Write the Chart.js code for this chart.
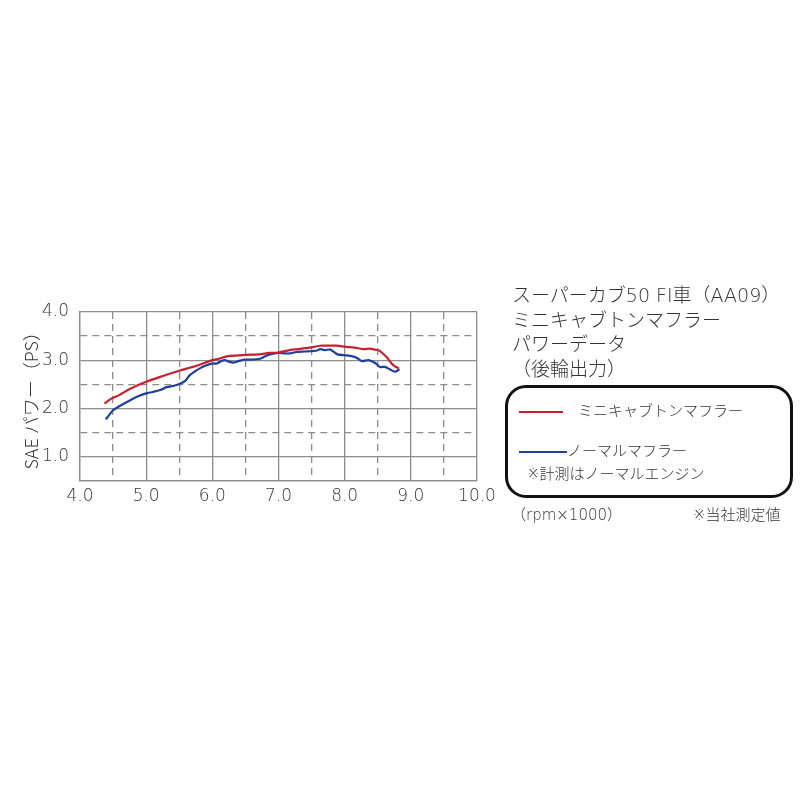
<!DOCTYPE html>
<html lang="ja">
<head>
<meta charset="utf-8">
<script src="https://cdn.jsdelivr.net/npm/chart.js@4/dist/chart.umd.min.js"></script>
<style>
  html, body { margin: 0; padding: 0; background: #fff; }
  body { width: 800px; height: 800px; position: relative; overflow: hidden;
         font-family: "DejaVu Sans", "Noto Sans CJK JP", sans-serif; color: #333; font-weight: 300; }
  #wrap { position: absolute; left: 0; top: 0; width: 800px; height: 800px; }
  .t { position: absolute; white-space: nowrap; line-height: 1; }
  #title { left: 512px; top: 283px; font-size: 19px; line-height: 24.5px; }
  #box { position: absolute; left: 505px; top: 385px; width: 282px; height: 107px;
         border: 3px solid #111; border-radius: 21px; }
  .sw { position: absolute; height: 2px; }
  .lg { font-size: 15px; }
</style>
</head>
<body>
<div id="wrap"><canvas id="powerChart" width="800" height="800"></canvas></div>

<div class="t" id="title">スーパーカブ50 FI車（AA09）<br>ミニキャブトンマフラー<br>パワーデータ<br>（後輪出力）</div>
<div id="box"></div>
<div class="sw" style="left:519px; top:411px; width:44px; background:#c8202f;"></div>
<div class="t lg" style="left:578px; top:404px;">ミニキャブトンマフラー</div>
<div class="sw" style="left:519px; top:451px; width:48px; background:#1f3f9a;"></div>
<div class="t lg" style="left:567px; top:444px;">ノーマルマフラー</div>
<div class="t lg" style="left:527px; top:467px;">※計測はノーマルエンジン</div>
<div class="t lg" style="left:511px; top:508px;">（rpm×1000）</div>
<div class="t lg" style="left:693px; top:508px;">※当社測定値</div>

<script>
// ---- データ (rpm×1000 / PS) ----
const miniRpm = [4.37, 4.45, 4.5, 4.6, 4.75, 5.0, 5.25, 5.5, 5.75, 6.0, 6.1, 6.22, 6.4, 6.52, 6.7, 6.87,
  7.0, 7.17, 7.3, 7.47, 7.63, 7.75, 7.88, 8.0, 8.15, 8.28, 8.38, 8.46, 8.52, 8.56, 8.63, 8.71, 8.76, 8.82];
const miniPs = [2.10, 2.18, 2.22, 2.28, 2.40, 2.55, 2.67, 2.78, 2.88, 3.0, 3.03, 3.08, 3.10, 3.11, 3.12, 3.15,
  3.16, 3.21, 3.23, 3.26, 3.30, 3.30, 3.30, 3.28, 3.26, 3.23, 3.24, 3.22, 3.20, 3.16, 3.07, 2.93, 2.87, 2.83];

const normalRpm = [4.39, 4.45, 4.5, 4.6, 4.76, 4.88, 5.0, 5.1, 5.21, 5.31, 5.42, 5.51, 5.59, 5.66, 5.73, 5.81,
  5.9, 5.99, 6.07, 6.12, 6.19, 6.25, 6.32, 6.42, 6.49, 6.6, 6.72, 6.8, 6.87, 7.0, 7.1, 7.17, 7.27, 7.4, 7.52,
  7.58, 7.63, 7.7, 7.78, 7.84, 7.89, 8.03, 8.12, 8.18, 8.26, 8.36, 8.46, 8.53, 8.61, 8.68, 8.76, 8.83];
const normalPs = [1.77, 1.88, 1.96, 2.05, 2.17, 2.25, 2.31, 2.34, 2.38, 2.44, 2.47, 2.51, 2.57, 2.69, 2.76, 2.83,
  2.89, 2.93, 2.93, 2.97, 3.0, 2.97, 2.95, 2.99, 3.01, 3.01, 3.03, 3.08, 3.12, 3.15, 3.14, 3.14, 3.17, 3.18, 3.19,
  3.20, 3.23, 3.21, 3.22, 3.17, 3.12, 3.10, 3.08, 3.05, 2.98, 3.0, 2.94, 2.86, 2.86, 2.81, 2.76, 2.81];

const xMin = 4.0, xMax = 10.0, yMin = 0.5, yMax = 4.0;

const toPts = (xs, ys) => xs.map((x, i) => ({ x: x, y: ys[i] }));
const labelInt = v => (Math.abs(v % 1) < 1e-6 ? v.toFixed(1) : '');
const dashHalf = min => ctx => {
  if (!ctx.tick) return [];
  const v = ctx.tick.value;
  return (Math.abs(v % 1) > 1e-6 && v !== min) ? [7, 5] : [];
};
const tickFont = { family: '"DejaVu Sans", "Noto Sans CJK JP", sans-serif', size: 17, weight: '300' };

new Chart(document.getElementById('powerChart'), {
  type: 'line',
  data: {
    datasets: [
      {
        label: 'ミニキャブトンマフラー',
        data: toPts(miniRpm, miniPs),
        borderColor: '#c8202f',
        borderWidth: 2.2,
        pointRadius: 0,
        tension: 0.3,
        fill: false
      },
      {
        label: 'ノーマルマフラー',
        data: toPts(normalRpm, normalPs),
        borderColor: '#1f3f9a',
        borderWidth: 2.2,
        pointRadius: 0,
        tension: 0.3,
        fill: false
      }
    ]
  },
  options: {
    responsive: false,
    animation: false,
    layout: { padding: { left: 20, top: 312, right: 323, bottom: 287 } },
    plugins: { legend: { display: false }, tooltip: { enabled: false } },
    scales: {
      x: {
        type: 'linear',
        min: xMin, max: xMax,
        ticks: { stepSize: 0.5, callback: labelInt, color: '#333', font: tickFont, padding: 6, maxRotation: 0, autoSkip: false },
        grid: { color: '#8c8c8c', lineWidth: 1.3, drawTicks: false },
        border: { display: true, color: '#8c8c8c', width: 1.3, dash: dashHalf(xMin) }
      },
      y: {
        type: 'linear',
        min: yMin, max: yMax,
        afterFit: scale => { scale.width = 60; },
        ticks: { stepSize: 0.5, callback: labelInt, color: '#333', font: tickFont, padding: 11, autoSkip: false },
        grid: { color: '#8c8c8c', lineWidth: 1.3, drawTicks: false },
        border: { display: true, color: '#8c8c8c', width: 1.3, dash: dashHalf(yMin) },
        title: {
          display: true,
          text: 'SAE パワー（PS）',
          color: '#333',
          font: { family: '"Noto Sans CJK JP", "Noto Sans", sans-serif', size: 18, weight: '300' },
          padding: { top: 0, bottom: 0 }
        }
      }
    }
  }
});
</script>
</body>
</html>
